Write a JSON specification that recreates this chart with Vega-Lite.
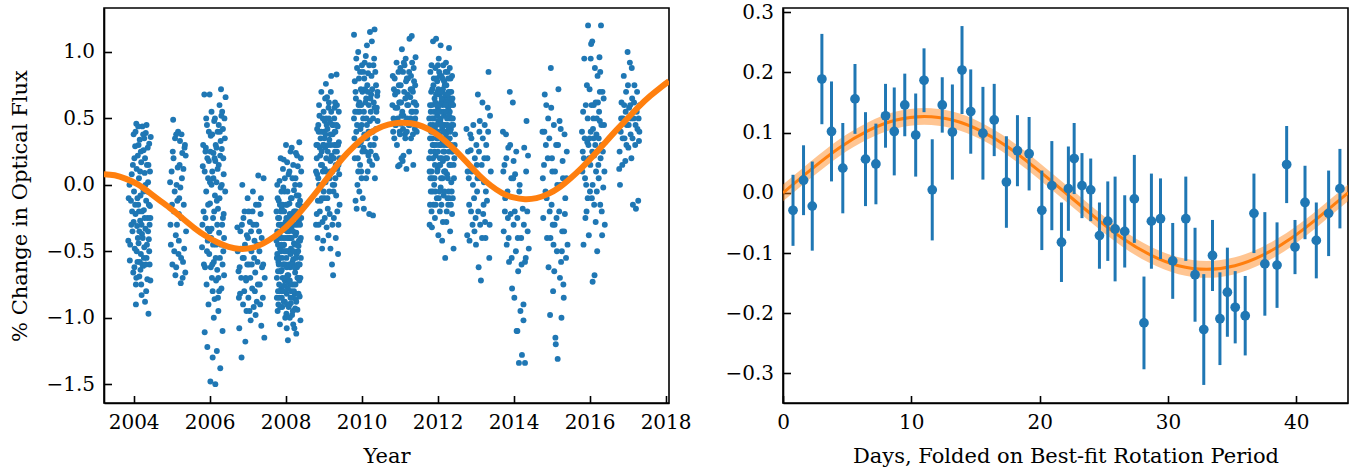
{
"$schema": "https://vega.github.io/schema/vega-lite/v6.json",
"padding": {"left": 8, "top": 1, "right": 5, "bottom": 5},
"background": "white",
"bounds": "flush",
"spacing": 114,
"config": {
  "font": "DejaVu Serif",
  "view": {"stroke": "black", "strokeWidth": 1.6},
  "axis": {"grid": false, "labelFlush": false, "domainColor": "black", "domainWidth": 1.6, "tickColor": "black", "tickWidth": 1.6, "tickSize": -7.5, "labelFont": "DejaVu Serif", "labelFontSize": 20, "labelColor": "black", "labelPadding": 17, "titleFont": "DejaVu Serif", "titleFontSize": 21, "titleFontWeight": "normal", "titleColor": "black"},
  "axisY": {"labelDy": 2.5}
},
"datasets": {
"flux": [
{"t":2003.86,"f":-0.42},{"t":2003.9,"f":-0.57},{"t":2003.93,"f":-0.12},{"t":2003.95,"f":0.08},{"t":2003.97,"f":-0.35},{"t":2003.99,"f":-0.66},{"t":2004.0,"f":0.38},{"t":2004.01,"f":-0.05},{"t":2004.03,"f":-0.48},{"t":2004.04,"f":0.29},{"t":2004.05,"f":-0.22},{"t":2004.06,"f":-0.75},{"t":2004.07,"f":0.46},{"t":2004.08,"f":0.12},{"t":2004.09,"f":-0.31},{"t":2004.1,"f":-0.58},{"t":2004.11,"f":0.22},{"t":2004.12,"f":-0.15},{"t":2004.13,"f":-0.44},{"t":2004.14,"f":0.05},{"t":2004.15,"f":-0.69},{"t":2004.16,"f":0.34},{"t":2004.17,"f":-0.27},{"t":2004.18,"f":-0.08},{"t":2004.19,"f":-0.52},{"t":2004.2,"f":0.17},{"t":2004.21,"f":-0.83},{"t":2004.22,"f":-0.37},{"t":2004.23,"f":0.44},{"t":2004.24,"f":-0.02},{"t":2004.25,"f":-0.61},{"t":2004.26,"f":0.26},{"t":2004.27,"f":-0.19},{"t":2004.28,"f":-0.47},{"t":2004.29,"f":0.09},{"t":2004.3,"f":-0.88},{"t":2004.31,"f":-0.33},{"t":2004.32,"f":0.39},{"t":2004.33,"f":-0.12},{"t":2004.34,"f":-0.55},{"t":2004.35,"f":0.15},{"t":2004.36,"f":-0.71},{"t":2004.37,"f":-0.25},{"t":2004.38,"f":0.02},{"t":2004.39,"f":-0.97},{"t":2004.4,"f":-0.41},{"t":2004.41,"f":0.31},{"t":2004.42,"f":-0.6},{"t":2004.43,"f":-0.16},{"t":2004.44,"f":-0.72},{"t":2004.45,"f":0.36},{"t":2004.0,"f":-0.28},{"t":2004.06,"f":-0.9},{"t":2004.12,"f":0.44},{"t":2004.18,"f":-0.64},{"t":2004.24,"f":-0.4},{"t":2004.3,"f":0.2},{"t":2004.36,"f":-0.05},{"t":2004.42,"f":-0.3},{"t":2003.96,"f":-0.2},
{"t":2003.87,"f":-0.1},{"t":2003.89,"f":0.0},{"t":2003.91,"f":-0.45},{"t":2003.94,"f":-0.3},{"t":2003.98,"f":0.15},{"t":2004.02,"f":-0.62},{"t":2004.02,"f":0.2},{"t":2004.05,"f":0.4},{"t":2004.08,"f":-0.5},{"t":2004.1,"f":-0.1},{"t":2004.13,"f":0.3},{"t":2004.15,"f":-0.35},{"t":2004.17,"f":0.1},{"t":2004.2,"f":-0.75},{"t":2004.22,"f":-0.2},{"t":2004.25,"f":0.38},{"t":2004.27,"f":-0.55},{"t":2004.29,"f":-0.25},{"t":2004.31,"f":0.0},{"t":2004.33,"f":-0.8},{"t":2004.35,"f":-0.45},{"t":2004.37,"f":0.28},{"t":2004.38,"f":-0.35},{"t":2004.4,"f":-0.15},{"t":2004.41,"f":-0.5},{"t":2004.43,"f":0.1},{"t":2004.44,"f":-0.25},{"t":2004.07,"f":-0.7},{"t":2004.11,"f":-0.4},{"t":2004.19,"f":0.25},{"t":2004.23,"f":-0.6},{"t":2004.26,"f":-0.05},{"t":2004.32,"f":-0.6},{"t":2004.34,"f":0.45},{"t":2004.14,"f":-0.2},{"t":2004.04,"f":-0.15},{"t":2004.28,"f":0.35},{"t":2004.39,"f":0.15},{"t":2004.16,"f":-0.58},{"t":2004.21,"f":-0.3},
{"t":2004.96,"f":0.02},{"t":2004.98,"f":-0.45},{"t":2005.0,"f":0.1},{"t":2005.02,"f":-0.6},{"t":2005.04,"f":0.49},{"t":2005.06,"f":-0.2},{"t":2005.08,"f":-0.05},{"t":2005.1,"f":-0.68},{"t":2005.12,"f":0.38},{"t":2005.14,"f":-0.3},{"t":2005.16,"f":0.13},{"t":2005.18,"f":-0.52},{"t":2005.2,"f":-0.1},{"t":2005.22,"f":0.33},{"t":2005.24,"f":-0.74},{"t":2005.26,"f":-0.25},{"t":2005.28,"f":0.24},{"t":2005.3,"f":-0.58},{"t":2005.32,"f":-0.15},{"t":2005.34,"f":0.28},{"t":2005.36,"f":-0.66},{"t":2005.38,"f":-0.35},{"t":2005.05,"f":0.2},{"t":2005.11,"f":-0.38},{"t":2005.17,"f":0.4},{"t":2005.23,"f":-0.02},{"t":2005.29,"f":-0.7},{"t":2005.35,"f":0.3},{"t":2005.15,"f":-0.12},{"t":2005.27,"f":0.05},
{"t":2004.97,"f":-0.3},{"t":2005.01,"f":-0.15},{"t":2005.03,"f":0.25},{"t":2005.07,"f":-0.5},{"t":2005.09,"f":0.35},{"t":2005.13,"f":0.0},{"t":2005.19,"f":-0.42},{"t":2005.21,"f":0.15},{"t":2005.25,"f":-0.55},{"t":2005.31,"f":0.12},{"t":2005.33,"f":-0.48},{"t":2005.37,"f":0.22},{"t":2005.12,"f":-0.62},{"t":2005.26,"f":0.38},{"t":2005.19,"f":-0.22},
{"t":2005.8,"f":-0.47},{"t":2005.82,"f":0.14},{"t":2005.84,"f":-0.2},{"t":2005.86,"f":0.68},{"t":2005.87,"f":-1.11},{"t":2005.88,"f":-0.62},{"t":2005.9,"f":0.28},{"t":2005.91,"f":-0.05},{"t":2005.92,"f":-0.75},{"t":2005.93,"f":0.45},{"t":2005.94,"f":-1.22},{"t":2005.95,"f":-0.33},{"t":2005.96,"f":0.05},{"t":2005.97,"f":-0.9},{"t":2005.98,"f":0.18},{"t":2005.99,"f":-0.52},{"t":2006.0,"f":0.68},{"t":2006.01,"f":-0.14},{"t":2006.02,"f":-1.48},{"t":2006.03,"f":0.37},{"t":2006.04,"f":-0.4},{"t":2006.05,"f":0.55},{"t":2006.06,"f":-0.7},{"t":2006.07,"f":0.1},{"t":2006.08,"f":-1.3},{"t":2006.09,"f":-0.25},{"t":2006.1,"f":0.24},{"t":2006.11,"f":-0.58},{"t":2006.12,"f":0.48},{"t":2006.13,"f":-0.86},{"t":2006.14,"f":-0.08},{"t":2006.15,"f":-1.5},{"t":2006.16,"f":0.3},{"t":2006.17,"f":-0.45},{"t":2006.18,"f":0.02},{"t":2006.19,"f":-1.25},{"t":2006.2,"f":-0.64},{"t":2006.21,"f":0.4},{"t":2006.22,"f":-0.18},{"t":2006.23,"f":-0.95},{"t":2006.24,"f":0.15},{"t":2006.25,"f":-0.36},{"t":2006.26,"f":0.6},{"t":2006.27,"f":-0.55},{"t":2006.28,"f":-1.38},{"t":2006.29,"f":-0.02},{"t":2006.3,"f":0.72},{"t":2006.31,"f":-0.78},{"t":2006.32,"f":0.27},{"t":2006.33,"f":-0.3},{"t":2006.34,"f":-1.1},{"t":2006.35,"f":0.42},{"t":2006.36,"f":-0.5},{"t":2006.37,"f":0.08},{"t":2006.38,"f":-0.68},{"t":2006.4,"f":0.35},{"t":2006.42,"f":0.66},{"t":2005.89,"f":0.25},{"t":2005.95,"f":-0.42},{"t":2006.01,"f":0.02},{"t":2006.07,"f":-0.6},{"t":2006.13,"f":0.2},{"t":2006.19,"f":-0.12},{"t":2006.25,"f":-0.8},{"t":2006.31,"f":0.52},{"t":2006.37,"f":-0.22},{"t":2006.05,"f":-0.33},{"t":2006.17,"f":-0.72},{"t":2006.29,"f":0.33},{"t":2006.11,"f":-1.0},
{"t":2005.81,"f":-0.3},{"t":2005.83,"f":0.3},{"t":2005.85,"f":-0.6},{"t":2005.87,"f":0.1},{"t":2005.89,"f":-0.25},{"t":2005.91,"f":0.5},{"t":2005.93,"f":-0.5},{"t":2005.96,"f":-0.15},{"t":2005.98,"f":0.4},{"t":2006.0,"f":-0.35},{"t":2006.02,"f":0.25},{"t":2006.03,"f":-0.62},{"t":2006.05,"f":0.0},{"t":2006.07,"f":0.38},{"t":2006.09,"f":-0.45},{"t":2006.1,"f":0.05},{"t":2006.12,"f":-0.2},{"t":2006.14,"f":0.5},{"t":2006.16,"f":-0.55},{"t":2006.18,"f":0.28},{"t":2006.2,"f":-0.3},{"t":2006.21,"f":0.12},{"t":2006.23,"f":-0.7},{"t":2006.24,"f":0.45},{"t":2006.26,"f":-0.1},{"t":2006.28,"f":0.22},{"t":2006.3,"f":-0.45},{"t":2006.32,"f":0.0},{"t":2006.33,"f":0.55},{"t":2006.35,"f":-0.25},{"t":2006.36,"f":0.2},{"t":2006.38,"f":-0.4},{"t":2006.39,"f":0.5},{"t":2006.41,"f":-0.05},{"t":2006.08,"f":-0.8},{"t":2006.22,"f":-0.85},{"t":2006.15,"f":0.18},{"t":2006.27,"f":0.4},{"t":2005.94,"f":0.2},{"t":2006.34,"f":-0.6},
{"t":2006.73,"f":-0.32},{"t":2006.76,"f":-0.65},{"t":2006.78,"f":-1.08},{"t":2006.8,"f":-0.82},{"t":2006.82,"f":-0.48},{"t":2006.84,"f":-1.3},{"t":2006.86,"f":0.0},{"t":2006.88,"f":-0.9},{"t":2006.9,"f":-0.55},{"t":2006.92,"f":-0.2},{"t":2006.94,"f":-1.18},{"t":2006.96,"f":-0.72},{"t":2006.98,"f":-0.38},{"t":2007.0,"f":-0.1},{"t":2007.02,"f":-0.85},{"t":2007.04,"f":-0.6},{"t":2007.06,"f":-0.28},{"t":2007.08,"f":-1.02},{"t":2007.1,"f":-0.5},{"t":2007.12,"f":-0.78},{"t":2007.14,"f":-0.05},{"t":2007.16,"f":-0.92},{"t":2007.18,"f":-0.42},{"t":2007.2,"f":-0.66},{"t":2007.22,"f":-0.15},{"t":2007.24,"f":-0.88},{"t":2007.26,"f":-0.58},{"t":2007.28,"f":0.07},{"t":2007.3,"f":-0.35},{"t":2007.32,"f":-0.75},{"t":2007.34,"f":-0.22},{"t":2007.36,"f":-1.06},{"t":2007.38,"f":-0.62},{"t":2007.4,"f":-0.85},{"t":2007.42,"f":0.05},{"t":2007.44,"f":-1.15},{"t":2006.85,"f":-0.3},{"t":2006.95,"f":-0.7},{"t":2007.05,"f":-0.95},{"t":2007.15,"f":-0.3},{"t":2007.25,"f":-0.45},{"t":2007.35,"f":-0.1},{"t":2007.45,"f":-0.7},{"t":2006.79,"f":-0.62},{"t":2007.21,"f":-0.98},
{"t":2006.74,"f":-0.5},{"t":2006.77,"f":-0.85},{"t":2006.81,"f":-0.35},{"t":2006.83,"f":-0.7},{"t":2006.87,"f":-0.55},{"t":2006.89,"f":-0.25},{"t":2006.91,"f":-0.8},{"t":2006.93,"f":-0.45},{"t":2006.97,"f":-0.95},{"t":2006.99,"f":-0.6},{"t":2007.01,"f":-0.4},{"t":2007.03,"f":-0.2},{"t":2007.07,"f":-0.7},{"t":2007.09,"f":-0.35},{"t":2007.11,"f":-0.6},{"t":2007.13,"f":-0.2},{"t":2007.17,"f":-0.55},{"t":2007.19,"f":-0.8},{"t":2007.23,"f":-0.3},{"t":2007.27,"f":-0.75},{"t":2007.29,"f":-0.15},{"t":2007.31,"f":-0.5},{"t":2007.33,"f":-0.9},{"t":2007.37,"f":-0.4},{"t":2007.41,"f":-0.6},
{"t":2007.76,"f":-0.42},{"t":2007.77,"f":-0.7},{"t":2007.78,"f":0.0},{"t":2007.79,"f":-0.95},{"t":2007.8,"f":-0.25},{"t":2007.81,"f":-0.58},{"t":2007.82,"f":-0.12},{"t":2007.83,"f":-0.85},{"t":2007.84,"f":-0.38},{"t":2007.85,"f":-1.05},{"t":2007.86,"f":-0.65},{"t":2007.87,"f":0.2},{"t":2007.88,"f":-0.5},{"t":2007.89,"f":-0.78},{"t":2007.9,"f":-0.18},{"t":2007.91,"f":-0.92},{"t":2007.92,"f":-0.32},{"t":2007.93,"f":0.12},{"t":2007.94,"f":-0.6},{"t":2007.95,"f":-0.88},{"t":2007.96,"f":-0.45},{"t":2007.97,"f":-0.05},{"t":2007.98,"f":-0.72},{"t":2007.99,"f":-1.0},{"t":2008.0,"f":-0.28},{"t":2008.01,"f":0.3},{"t":2008.02,"f":-0.55},{"t":2008.03,"f":-0.82},{"t":2008.04,"f":-0.15},{"t":2008.05,"f":-0.4},{"t":2008.06,"f":-1.17},{"t":2008.07,"f":-0.68},{"t":2008.08,"f":0.08},{"t":2008.09,"f":-0.35},{"t":2008.1,"f":-0.9},{"t":2008.11,"f":-0.22},{"t":2008.12,"f":-0.62},{"t":2008.13,"f":0.25},{"t":2008.14,"f":-0.48},{"t":2008.15,"f":-0.8},{"t":2008.16,"f":-0.1},{"t":2008.17,"f":-0.98},{"t":2008.18,"f":-0.58},{"t":2008.19,"f":-0.3},{"t":2008.2,"f":0.15},{"t":2008.21,"f":-0.75},{"t":2008.22,"f":-0.44},{"t":2008.23,"f":-1.08},{"t":2008.24,"f":-0.2},{"t":2008.25,"f":-0.66},{"t":2008.26,"f":0.05},{"t":2008.27,"f":-0.86},{"t":2008.28,"f":-0.36},{"t":2008.29,"f":-0.52},{"t":2008.3,"f":0.22},{"t":2008.31,"f":-0.94},{"t":2008.32,"f":-0.26},{"t":2008.33,"f":-0.7},{"t":2008.34,"f":-0.08},{"t":2008.35,"f":-0.6},{"t":2008.36,"f":0.32},{"t":2008.37,"f":-0.84},{"t":2008.38,"f":-0.42},{"t":2008.39,"f":-1.02},{"t":2008.4,"f":-0.16},{"t":2008.41,"f":0.1},{"t":2007.78,"f":-0.52},{"t":2007.8,"f":-0.8},{"t":2007.82,"f":-0.3},{"t":2007.84,"f":0.03},{"t":2007.86,"f":-0.92},{"t":2007.88,"f":-0.2},{"t":2007.9,"f":-0.64},{"t":2007.92,"f":-0.46},{"t":2007.94,"f":-0.02},{"t":2007.96,"f":-0.76},{"t":2007.98,"f":-0.34},{"t":2008.0,"f":-0.6},{"t":2008.02,"f":-0.97},{"t":2008.04,"f":0.17},{"t":2008.06,"f":-0.5},{"t":2008.08,"f":-0.74},{"t":2008.1,"f":-0.14},{"t":2008.12,"f":-0.4},{"t":2008.14,"f":-0.89},{"t":2008.16,"f":0.28},{"t":2008.18,"f":-0.24},{"t":2008.2,"f":-0.56},{"t":2008.22,"f":-0.04},{"t":2008.24,"f":-0.82},{"t":2008.26,"f":-0.38},{"t":2008.28,"f":-1.12},{"t":2008.3,"f":-0.62},{"t":2008.32,"f":0.14},{"t":2008.34,"f":-0.46},{"t":2008.36,"f":-0.72},{"t":2008.38,"f":-0.12},{"t":2008.4,"f":-0.55},{"t":2008.05,"f":-0.68},{"t":2008.15,"f":-0.33},{"t":2008.25,"f":-0.93},{"t":2008.35,"f":-0.28},{"t":2007.95,"f":0.19},{"t":2008.11,"f":-1.0},{"t":2008.27,"f":0.24},{"t":2007.85,"f":-0.48},{"t":2008.19,"f":-0.85},{"t":2008.33,"f":-0.5},
{"t":2007.76,"f":-0.2},{"t":2007.77,"f":-0.55},{"t":2007.77,"f":-0.85},{"t":2007.78,"f":-0.35},{"t":2007.79,"f":-0.1},{"t":2007.8,"f":-0.65},{"t":2007.8,"f":-0.45},{"t":2007.81,"f":-0.9},{"t":2007.82,"f":-0.6},{"t":2007.83,"f":-0.25},{"t":2007.83,"f":-0.75},{"t":2007.84,"f":-0.55},{"t":2007.85,"f":-0.15},{"t":2007.86,"f":-0.4},{"t":2007.86,"f":-0.8},{"t":2007.87,"f":-0.3},{"t":2007.88,"f":-0.65},{"t":2007.89,"f":-0.05},{"t":2007.89,"f":-0.45},{"t":2007.9,"f":-0.85},{"t":2007.91,"f":-0.55},{"t":2007.92,"f":-0.7},{"t":2007.92,"f":-0.15},{"t":2007.93,"f":-0.4},{"t":2007.94,"f":-0.8},{"t":2007.95,"f":-0.3},{"t":2007.95,"f":-0.6},{"t":2007.96,"f":-0.2},{"t":2007.97,"f":-0.5},{"t":2007.98,"f":-0.88},{"t":2007.98,"f":0.05},{"t":2007.99,"f":-0.4},{"t":2008.0,"f":-0.7},{"t":2008.01,"f":-0.15},{"t":2008.01,"f":-0.5},{"t":2008.02,"f":-0.25},{"t":2008.03,"f":-0.62},{"t":2008.04,"f":-0.9},{"t":2008.04,"f":-0.35},{"t":2008.05,"f":-0.05},{"t":2008.06,"f":-0.78},{"t":2008.07,"f":-0.25},{"t":2008.07,"f":-0.5},{"t":2008.08,"f":-0.92},{"t":2008.09,"f":-0.6},{"t":2008.1,"f":-0.4},{"t":2008.1,"f":0.1},{"t":2008.11,"f":-0.72},{"t":2008.12,"f":-0.3},{"t":2008.13,"f":-0.52},{"t":2008.13,"f":-0.85},{"t":2008.14,"f":-0.1},{"t":2008.15,"f":-0.6},{"t":2008.16,"f":-0.4},{"t":2008.16,"f":-0.75},{"t":2008.17,"f":-0.22},{"t":2008.18,"f":0.05},{"t":2008.19,"f":-0.6},{"t":2008.19,"f":-0.95},{"t":2008.2,"f":-0.35},{"t":2008.21,"f":-0.5},{"t":2008.22,"f":-0.2},{"t":2008.22,"f":-0.8},{"t":2008.23,"f":-0.62},{"t":2008.24,"f":-0.45},{"t":2008.25,"f":0.0},{"t":2008.25,"f":-0.3},{"t":2008.26,"f":-0.75},{"t":2008.27,"f":-0.55},{"t":2008.28,"f":-0.2},{"t":2008.28,"f":-0.88},{"t":2008.29,"f":-0.08},{"t":2008.3,"f":-0.45},{"t":2008.31,"f":-0.7},{"t":2008.31,"f":-0.3},{"t":2008.32,"f":-0.6},{"t":2008.33,"f":-0.15},{"t":2008.34,"f":-0.82},{"t":2008.34,"f":-0.25},{"t":2008.35,"f":-0.42},{"t":2008.36,"f":-0.15},{"t":2008.37,"f":-0.6},{"t":2008.37,"f":0.0},{"t":2008.38,"f":-0.3},{"t":2008.39,"f":-0.7},{"t":2008.4,"f":-0.4},{"t":2008.4,"f":0.2},{"t":2008.41,"f":-0.25},{"t":2008.03,"f":-1.08},{"t":2008.2,"f":-1.05},
{"t":2008.8,"f":-0.3},{"t":2008.82,"f":0.2},{"t":2008.84,"f":-0.4},{"t":2008.86,"f":0.45},{"t":2008.88,"f":0.0},{"t":2008.9,"f":-0.2},{"t":2008.92,"f":0.35},{"t":2008.94,"f":0.7},{"t":2008.96,"f":-0.48},{"t":2008.98,"f":0.1},{"t":2009.0,"f":0.55},{"t":2009.02,"f":-0.1},{"t":2009.04,"f":0.28},{"t":2009.06,"f":0.76},{"t":2009.08,"f":-0.32},{"t":2009.1,"f":0.42},{"t":2009.12,"f":0.05},{"t":2009.14,"f":0.62},{"t":2009.16,"f":-0.22},{"t":2009.18,"f":0.18},{"t":2009.2,"f":0.82},{"t":2009.22,"f":-0.6},{"t":2009.24,"f":0.38},{"t":2009.26,"f":-0.05},{"t":2009.28,"f":0.5},{"t":2009.3,"f":0.25},{"t":2009.32,"f":-0.4},{"t":2009.34,"f":0.83},{"t":2009.36,"f":0.12},{"t":2009.38,"f":-0.52},{"t":2009.4,"f":0.32},{"t":2009.42,"f":-0.15},{"t":2008.81,"f":0.3},{"t":2008.85,"f":-0.12},{"t":2008.89,"f":0.52},{"t":2008.93,"f":0.15},{"t":2008.97,"f":-0.28},{"t":2009.01,"f":0.4},{"t":2009.05,"f":0.02},{"t":2009.09,"f":0.66},{"t":2009.13,"f":-0.38},{"t":2009.17,"f":0.47},{"t":2009.21,"f":0.22},{"t":2009.25,"f":-0.68},{"t":2009.29,"f":0.58},{"t":2009.33,"f":-0.08},{"t":2009.37,"f":0.44},{"t":2009.41,"f":0.08},{"t":2008.87,"f":0.4},{"t":2008.91,"f":-0.02},{"t":2008.95,"f":0.25},{"t":2008.99,"f":-0.42},{"t":2009.03,"f":0.48},{"t":2009.07,"f":0.2},{"t":2009.11,"f":-0.18},{"t":2009.15,"f":0.34},{"t":2009.19,"f":0.7},{"t":2009.23,"f":0.1},{"t":2009.27,"f":-0.25},{"t":2009.31,"f":0.4},{"t":2009.35,"f":0.6},{"t":2009.39,"f":-0.3},{"t":2009.03,"f":-0.25},{"t":2009.13,"f":0.58},{"t":2009.23,"f":0.45},{"t":2009.33,"f":0.3},{"t":2008.83,"f":0.08},{"t":2009.18,"f":-0.48},{"t":2009.28,"f":0.0},{"t":2009.0,"f":0.3},
{"t":2008.8,"f":0.1},{"t":2008.82,"f":-0.22},{"t":2008.84,"f":0.3},{"t":2008.86,"f":0.05},{"t":2008.88,"f":0.6},{"t":2008.9,"f":0.28},{"t":2008.92,"f":-0.12},{"t":2008.94,"f":0.4},{"t":2008.96,"f":0.15},{"t":2008.98,"f":0.5},{"t":2009.0,"f":-0.05},{"t":2009.02,"f":0.35},{"t":2009.04,"f":0.65},{"t":2009.06,"f":0.1},{"t":2009.08,"f":0.45},{"t":2009.1,"f":-0.1},{"t":2009.12,"f":0.3},{"t":2009.14,"f":0.5},{"t":2009.16,"f":0.05},{"t":2009.18,"f":0.38},{"t":2009.2,"f":0.55},{"t":2009.22,"f":0.2},{"t":2009.24,"f":0.0},{"t":2009.26,"f":0.45},{"t":2009.28,"f":0.3},{"t":2009.3,"f":0.62},{"t":2009.32,"f":0.15},{"t":2009.34,"f":0.45},{"t":2009.36,"f":-0.2},{"t":2009.38,"f":0.3},{"t":2009.4,"f":0.55},{"t":2009.42,"f":0.2},{"t":2008.83,"f":0.42},{"t":2008.87,"f":-0.3},{"t":2008.91,"f":0.22},{"t":2008.95,"f":-0.1},{"t":2008.99,"f":0.3},{"t":2009.03,"f":0.12},{"t":2009.07,"f":0.5},{"t":2009.11,"f":0.25},{"t":2009.15,"f":-0.05},{"t":2009.19,"f":0.3},{"t":2009.23,"f":-0.3},{"t":2009.27,"f":0.2},{"t":2009.31,"f":0.05},{"t":2009.35,"f":0.25},{"t":2009.39,"f":0.15},{"t":2009.05,"f":0.38},{"t":2009.17,"f":0.1},{"t":2009.29,"f":0.4},
{"t":2009.8,"f":1.13},{"t":2009.82,"f":0.78},{"t":2009.84,"f":-0.12},{"t":2009.86,"f":0.95},{"t":2009.88,"f":0.45},{"t":2009.9,"f":0.2},{"t":2009.92,"f":0.6},{"t":2009.94,"f":-0.05},{"t":2009.96,"f":0.85},{"t":2009.98,"f":0.32},{"t":2010.0,"f":0.05},{"t":2010.02,"f":0.7},{"t":2010.04,"f":0.5},{"t":2010.06,"f":-0.18},{"t":2010.08,"f":0.92},{"t":2010.1,"f":0.25},{"t":2010.12,"f":0.65},{"t":2010.14,"f":1.05},{"t":2010.16,"f":0.1},{"t":2010.18,"f":0.4},{"t":2010.2,"f":-0.22},{"t":2010.22,"f":1.15},{"t":2010.24,"f":0.55},{"t":2010.26,"f":0.82},{"t":2010.28,"f":0.15},{"t":2010.3,"f":-0.23},{"t":2010.32,"f":0.62},{"t":2010.34,"f":1.17},{"t":2010.36,"f":0.35},{"t":2010.38,"f":0.75},{"t":2010.4,"f":0.58},{"t":2010.42,"f":0.48},{"t":2009.81,"f":0.35},{"t":2009.85,"f":0.65},{"t":2009.89,"f":0.0},{"t":2009.93,"f":0.8},{"t":2009.97,"f":0.42},{"t":2010.01,"f":0.9},{"t":2010.05,"f":0.28},{"t":2010.09,"f":0.72},{"t":2010.13,"f":0.5},{"t":2010.17,"f":0.84},{"t":2010.21,"f":0.18},{"t":2010.25,"f":0.68},{"t":2010.29,"f":0.4},{"t":2010.33,"f":0.95},{"t":2010.37,"f":0.22},{"t":2010.41,"f":0.67},{"t":2009.87,"f":-0.18},{"t":2009.95,"f":0.55},{"t":2010.03,"f":-0.1},{"t":2010.11,"f":0.97},{"t":2010.19,"f":0.6},{"t":2010.27,"f":1.08},{"t":2010.35,"f":0.05},{"t":2009.91,"f":1.0},{"t":2009.99,"f":0.1},{"t":2010.07,"f":0.38},{"t":2010.15,"f":0.75},{"t":2010.23,"f":0.3},
{"t":2009.8,"f":0.5},{"t":2009.82,"f":0.2},{"t":2009.84,"f":0.7},{"t":2009.86,"f":0.4},{"t":2009.88,"f":0.88},{"t":2009.9,"f":0.55},{"t":2009.92,"f":0.3},{"t":2009.94,"f":0.62},{"t":2009.96,"f":0.15},{"t":2009.98,"f":0.72},{"t":2010.0,"f":0.45},{"t":2010.02,"f":0.25},{"t":2010.04,"f":0.85},{"t":2010.06,"f":0.55},{"t":2010.08,"f":0.35},{"t":2010.1,"f":0.62},{"t":2010.12,"f":0.05},{"t":2010.14,"f":0.45},{"t":2010.16,"f":0.7},{"t":2010.18,"f":0.22},{"t":2010.2,"f":0.9},{"t":2010.22,"f":0.48},{"t":2010.24,"f":0.25},{"t":2010.26,"f":0.4},{"t":2010.28,"f":0.72},{"t":2010.3,"f":0.5},{"t":2010.32,"f":0.3},{"t":2010.34,"f":0.58},{"t":2010.36,"f":0.85},{"t":2010.38,"f":0.42},{"t":2010.4,"f":0.2},{"t":2010.42,"f":0.7},{"t":2009.83,"f":0.55},{"t":2009.91,"f":0.1},{"t":2009.99,"f":0.6},{"t":2010.07,"f":0.8},{"t":2010.15,"f":0.35},{"t":2010.23,"f":0.65},{"t":2010.31,"f":0.9},{"t":2010.39,"f":0.55},
{"t":2010.82,"f":0.82},{"t":2010.84,"f":0.5},{"t":2010.86,"f":0.35},{"t":2010.88,"f":0.68},{"t":2010.9,"f":0.45},{"t":2010.92,"f":0.92},{"t":2010.94,"f":0.58},{"t":2010.96,"f":0.14},{"t":2010.98,"f":0.75},{"t":2011.0,"f":0.4},{"t":2011.02,"f":0.88},{"t":2011.04,"f":0.62},{"t":2011.06,"f":1.02},{"t":2011.08,"f":0.18},{"t":2011.1,"f":0.52},{"t":2011.12,"f":0.7},{"t":2011.14,"f":0.38},{"t":2011.16,"f":0.95},{"t":2011.18,"f":0.12},{"t":2011.2,"f":0.6},{"t":2011.22,"f":0.8},{"t":2011.24,"f":0.45},{"t":2011.26,"f":1.1},{"t":2011.28,"f":0.66},{"t":2011.3,"f":0.35},{"t":2011.32,"f":1.12},{"t":2011.34,"f":0.55},{"t":2011.36,"f":0.15},{"t":2011.38,"f":0.78},{"t":2011.4,"f":0.42},{"t":2011.42,"f":0.96},{"t":2011.44,"f":0.6},{"t":2010.85,"f":0.72},{"t":2010.93,"f":0.3},{"t":2011.01,"f":0.62},{"t":2011.09,"f":0.85},{"t":2011.17,"f":0.48},{"t":2011.25,"f":0.25},{"t":2011.33,"f":0.72},{"t":2011.41,"f":0.5},{"t":2010.89,"f":0.58},{"t":2010.97,"f":0.85},{"t":2011.05,"f":0.2},{"t":2011.13,"f":0.9},{"t":2011.21,"f":0.68},{"t":2011.29,"f":0.5},{"t":2011.37,"f":0.88},{"t":2011.45,"f":0.4},{"t":2011.03,"f":0.46},{"t":2011.19,"f":0.8},
{"t":2010.81,"f":0.6},{"t":2010.83,"f":0.4},{"t":2010.87,"f":0.8},{"t":2010.89,"f":0.45},{"t":2010.91,"f":0.7},{"t":2010.95,"f":0.5},{"t":2010.99,"f":0.62},{"t":2011.01,"f":0.38},{"t":2011.03,"f":0.75},{"t":2011.07,"f":0.55},{"t":2011.09,"f":0.42},{"t":2011.11,"f":0.92},{"t":2011.15,"f":0.65},{"t":2011.17,"f":0.78},{"t":2011.19,"f":0.4},{"t":2011.23,"f":0.6},{"t":2011.25,"f":0.85},{"t":2011.27,"f":0.45},{"t":2011.29,"f":0.72},{"t":2011.31,"f":0.55},{"t":2011.33,"f":0.92},{"t":2011.35,"f":0.38},{"t":2011.37,"f":0.62},{"t":2011.39,"f":0.48},{"t":2011.41,"f":0.75},{"t":2011.43,"f":0.55},{"t":2011.0,"f":0.15},{"t":2011.1,"f":0.22},{"t":2011.2,"f":0.5},{"t":2011.3,"f":0.82},{"t":2011.4,"f":0.62},{"t":2010.95,"f":0.7},{"t":2011.05,"f":0.52},{"t":2011.15,"f":0.35},{"t":2011.35,"f":0.7},
{"t":2011.78,"f":0.2},{"t":2011.79,"f":-0.3},{"t":2011.8,"f":0.6},{"t":2011.81,"f":0.85},{"t":2011.82,"f":-0.05},{"t":2011.83,"f":0.4},{"t":2011.84,"f":0.1},{"t":2011.85,"f":-0.32},{"t":2011.86,"f":0.72},{"t":2011.87,"f":0.3},{"t":2011.88,"f":1.08},{"t":2011.89,"f":-0.15},{"t":2011.9,"f":0.5},{"t":2011.91,"f":0.0},{"t":2011.92,"f":0.65},{"t":2011.93,"f":-0.25},{"t":2011.94,"f":0.88},{"t":2011.95,"f":0.22},{"t":2011.96,"f":1.1},{"t":2011.97,"f":0.45},{"t":2011.98,"f":-0.1},{"t":2011.99,"f":0.78},{"t":2012.0,"f":0.12},{"t":2012.01,"f":0.58},{"t":2012.02,"f":-0.38},{"t":2012.03,"f":0.95},{"t":2012.04,"f":0.3},{"t":2012.05,"f":0.68},{"t":2012.06,"f":-0.2},{"t":2012.07,"f":0.48},{"t":2012.08,"f":1.05},{"t":2012.09,"f":0.05},{"t":2012.1,"f":0.82},{"t":2012.11,"f":0.35},{"t":2012.12,"f":-0.42},{"t":2012.13,"f":0.6},{"t":2012.14,"f":0.18},{"t":2012.15,"f":0.9},{"t":2012.16,"f":-0.08},{"t":2012.17,"f":0.52},{"t":2012.18,"f":0.25},{"t":2012.19,"f":0.75},{"t":2012.2,"f":-0.55},{"t":2012.21,"f":0.4},{"t":2012.22,"f":0.92},{"t":2012.23,"f":-0.28},{"t":2012.24,"f":0.65},{"t":2012.25,"f":0.08},{"t":2012.26,"f":0.85},{"t":2012.27,"f":0.32},{"t":2012.28,"f":-0.15},{"t":2012.29,"f":0.7},{"t":2012.3,"f":1.03},{"t":2012.31,"f":0.15},{"t":2012.32,"f":0.55},{"t":2012.33,"f":-0.35},{"t":2012.34,"f":0.8},{"t":2012.35,"f":0.42},{"t":2012.36,"f":0.02},{"t":2012.37,"f":0.62},{"t":2012.38,"f":-0.22},{"t":2012.39,"f":0.28},{"t":2012.4,"f":0.5},{"t":2012.42,"f":-0.48},{"t":2012.44,"f":0.2},{"t":2012.46,"f":0.38},{"t":2011.8,"f":0.35},{"t":2011.84,"f":0.9},{"t":2011.88,"f":0.45},{"t":2011.92,"f":0.25},{"t":2011.96,"f":0.68},{"t":2012.0,"f":0.4},{"t":2012.04,"f":0.85},{"t":2012.08,"f":-0.02},{"t":2012.12,"f":0.7},{"t":2012.16,"f":0.45},{"t":2012.2,"f":0.1},{"t":2012.24,"f":0.3},{"t":2012.28,"f":0.58},{"t":2012.32,"f":0.88},{"t":2012.36,"f":0.7},{"t":2012.4,"f":-0.1},{"t":2011.82,"f":0.55},{"t":2011.86,"f":0.05},{"t":2011.9,"f":0.8},{"t":2011.94,"f":-0.05},{"t":2011.98,"f":0.35},{"t":2012.02,"f":0.72},{"t":2012.06,"f":0.2},{"t":2012.1,"f":0.55},{"t":2012.14,"f":-0.28},{"t":2012.18,"f":0.62},{"t":2012.22,"f":0.38},{"t":2012.26,"f":-0.1},{"t":2012.3,"f":0.25},{"t":2012.34,"f":0.5},{"t":2012.38,"f":0.82},{"t":2012.42,"f":0.15},{"t":2012.01,"f":0.9},{"t":2012.09,"f":0.62},{"t":2012.17,"f":0.78},{"t":2012.25,"f":0.5},{"t":2012.33,"f":0.65},{"t":2012.13,"f":0.32},{"t":2012.29,"f":0.42},{"t":2012.05,"f":0.15},{"t":2012.21,"f":0.85},{"t":2012.37,"f":0.45},{"t":2011.99,"f":0.52},
{"t":2011.78,"f":0.5},{"t":2011.79,"f":0.1},{"t":2011.8,"f":-0.15},{"t":2011.81,"f":0.45},{"t":2011.82,"f":0.25},{"t":2011.83,"f":0.7},{"t":2011.84,"f":-0.2},{"t":2011.85,"f":0.6},{"t":2011.86,"f":0.35},{"t":2011.87,"f":-0.05},{"t":2011.88,"f":0.2},{"t":2011.89,"f":0.75},{"t":2011.9,"f":0.3},{"t":2011.91,"f":0.55},{"t":2011.92,"f":0.05},{"t":2011.93,"f":0.42},{"t":2011.94,"f":0.62},{"t":2011.95,"f":-0.15},{"t":2011.96,"f":0.3},{"t":2011.97,"f":0.8},{"t":2011.98,"f":0.55},{"t":2011.99,"f":0.1},{"t":2012.0,"f":0.7},{"t":2012.01,"f":0.25},{"t":2012.02,"f":0.48},{"t":2012.03,"f":-0.1},{"t":2012.04,"f":0.6},{"t":2012.05,"f":0.38},{"t":2012.06,"f":0.82},{"t":2012.07,"f":0.15},{"t":2012.08,"f":0.5},{"t":2012.09,"f":0.3},{"t":2012.1,"f":-0.15},{"t":2012.11,"f":0.65},{"t":2012.12,"f":0.42},{"t":2012.13,"f":0.05},{"t":2012.14,"f":0.72},{"t":2012.15,"f":0.25},{"t":2012.16,"f":0.55},{"t":2012.17,"f":0.1},{"t":2012.18,"f":-0.05},{"t":2012.19,"f":0.45},{"t":2012.2,"f":0.68},{"t":2012.21,"f":0.2},{"t":2012.22,"f":0.55},{"t":2012.23,"f":0.35},{"t":2012.24,"f":-0.2},{"t":2012.25,"f":0.62},{"t":2012.26,"f":0.45},{"t":2012.27,"f":0.05},{"t":2012.28,"f":0.8},{"t":2012.29,"f":0.3},{"t":2012.3,"f":0.52},{"t":2012.31,"f":-0.1},{"t":2012.32,"f":0.35},{"t":2012.33,"f":0.7},{"t":2012.34,"f":0.15},{"t":2012.35,"f":0.6},{"t":2012.36,"f":0.3},{"t":2012.37,"f":-0.05},{"t":2012.38,"f":0.5},{"t":2012.39,"f":0.65},{"t":2012.4,"f":0.25},{"t":2012.41,"f":0.45},{"t":2012.43,"f":0.05},{"t":2012.45,"f":0.3},{"t":2011.81,"f":0.05},{"t":2011.85,"f":0.5},{"t":2011.89,"f":0.4},{"t":2011.93,"f":0.15},{"t":2011.97,"f":0.6},{"t":2012.01,"f":0.35},{"t":2012.05,"f":-0.05},{"t":2012.09,"f":0.45},{"t":2012.13,"f":0.8},{"t":2012.17,"f":0.3},{"t":2012.21,"f":0.6},{"t":2012.25,"f":0.2},{"t":2012.29,"f":-0.05},{"t":2012.33,"f":0.4},{"t":2012.37,"f":0.25},{"t":2012.41,"f":0.6},{"t":2012.03,"f":0.55},{"t":2012.11,"f":0.2},{"t":2012.19,"f":0.1},{"t":2012.27,"f":0.68},{"t":2012.35,"f":-0.15},{"t":2012.07,"f":0.7},{"t":2012.23,"f":0.75},{"t":2012.15,"f":0.4},
{"t":2012.76,"f":0.42},{"t":2012.78,"f":-0.38},{"t":2012.8,"f":0.25},{"t":2012.82,"f":0.05},{"t":2012.84,"f":-0.42},{"t":2012.86,"f":0.38},{"t":2012.88,"f":-0.2},{"t":2012.9,"f":0.1},{"t":2012.92,"f":-0.3},{"t":2012.94,"f":0.45},{"t":2012.96,"f":-0.1},{"t":2012.98,"f":0.2},{"t":2013.0,"f":-0.25},{"t":2013.02,"f":0.3},{"t":2013.04,"f":-0.05},{"t":2013.06,"f":0.68},{"t":2013.08,"f":-0.62},{"t":2013.1,"f":0.4},{"t":2013.12,"f":-0.3},{"t":2013.14,"f":-0.72},{"t":2013.16,"f":0.15},{"t":2013.18,"f":0.62},{"t":2013.2,"f":-0.22},{"t":2013.22,"f":0.02},{"t":2013.24,"f":0.45},{"t":2013.26,"f":-0.4},{"t":2013.28,"f":0.3},{"t":2013.3,"f":-0.12},{"t":2013.32,"f":0.58},{"t":2013.34,"f":0.85},{"t":2013.36,"f":-0.55},{"t":2013.38,"f":0.52},{"t":2013.4,"f":0.1},{"t":2012.87,"f":0.26},{"t":2013.01,"f":-0.45},{"t":2013.11,"f":0.48},{"t":2013.21,"f":-0.15},{"t":2013.31,"f":0.2},{"t":2013.25,"f":-0.28},{"t":2013.05,"f":0.05},
{"t":2012.79,"f":0.1},{"t":2012.83,"f":-0.15},{"t":2012.89,"f":0.35},{"t":2012.93,"f":0.0},{"t":2012.97,"f":-0.35},{"t":2013.03,"f":0.15},{"t":2013.07,"f":-0.2},{"t":2013.09,"f":0.25},{"t":2013.13,"f":0.05},{"t":2013.17,"f":-0.4},{"t":2013.19,"f":0.35},{"t":2013.23,"f":0.2},{"t":2013.27,"f":-0.05},{"t":2013.33,"f":0.4},{"t":2013.37,"f":-0.3},
{"t":2013.72,"f":0.4},{"t":2013.74,"f":-0.35},{"t":2013.76,"f":0.15},{"t":2013.78,"f":-0.1},{"t":2013.8,"f":0.38},{"t":2013.82,"f":-0.45},{"t":2013.84,"f":-0.05},{"t":2013.86,"f":0.28},{"t":2013.88,"f":-0.58},{"t":2013.9,"f":0.7},{"t":2013.92,"f":-0.22},{"t":2013.94,"f":0.05},{"t":2013.96,"f":-0.78},{"t":2013.98,"f":0.62},{"t":2014.0,"f":-0.3},{"t":2014.02,"f":-0.85},{"t":2014.04,"f":0.08},{"t":2014.06,"f":-0.5},{"t":2014.08,"f":-1.1},{"t":2014.1,"f":-0.25},{"t":2014.12,"f":-0.65},{"t":2014.14,"f":-1.34},{"t":2014.16,"f":0.0},{"t":2014.18,"f":-0.95},{"t":2014.2,"f":-0.4},{"t":2014.22,"f":-1.28},{"t":2014.24,"f":-0.18},{"t":2014.26,"f":-1.02},{"t":2014.28,"f":0.28},{"t":2014.3,"f":-1.34},{"t":2014.32,"f":-0.55},{"t":2014.34,"f":0.48},{"t":2014.36,"f":-0.2},{"t":2014.38,"f":0.22},{"t":2014.4,"f":-0.48},{"t":2014.1,"f":-1.1},{"t":2014.26,"f":-0.9},{"t":2013.85,"f":-0.25},{"t":2014.0,"f":0.18},{"t":2014.3,"f":-0.58},
{"t":2013.73,"f":0.1},{"t":2013.77,"f":-0.2},{"t":2013.81,"f":0.2},{"t":2013.87,"f":-0.4},{"t":2013.91,"f":0.3},{"t":2013.95,"f":-0.55},{"t":2013.99,"f":0.05},{"t":2014.03,"f":-0.2},{"t":2014.07,"f":0.25},{"t":2014.11,"f":-0.4},{"t":2014.15,"f":-0.05},{"t":2014.21,"f":-0.6},{"t":2014.27,"f":-0.3},{"t":2014.33,"f":0.1},{"t":2014.37,"f":-0.35},
{"t":2014.76,"f":0.4},{"t":2014.78,"f":-0.25},{"t":2014.8,"f":0.15},{"t":2014.82,"f":0.68},{"t":2014.84,"f":-0.05},{"t":2014.86,"f":0.6},{"t":2014.88,"f":-0.4},{"t":2014.9,"f":0.2},{"t":2014.92,"f":-0.62},{"t":2014.94,"f":0.35},{"t":2014.96,"f":-0.98},{"t":2014.98,"f":0.88},{"t":2015.0,"f":-0.15},{"t":2015.02,"f":0.1},{"t":2015.04,"f":-0.8},{"t":2015.06,"f":0.45},{"t":2015.08,"f":-0.3},{"t":2015.1,"f":-1.15},{"t":2015.12,"f":0.3},{"t":2015.14,"f":-0.5},{"t":2015.16,"f":-1.31},{"t":2015.18,"f":0.72},{"t":2015.2,"f":-0.2},{"t":2015.22,"f":-0.7},{"t":2015.24,"f":0.42},{"t":2015.26,"f":-1.0},{"t":2015.28,"f":-0.35},{"t":2015.3,"f":0.05},{"t":2015.32,"f":-0.85},{"t":2015.34,"f":0.38},{"t":2015.36,"f":-0.1},{"t":2015.38,"f":-0.55},{"t":2015.4,"f":0.25},{"t":2015.42,"f":-0.45},{"t":2014.85,"f":0.3},{"t":2014.95,"f":-0.2},{"t":2015.05,"f":-0.45},{"t":2015.15,"f":0.0},{"t":2015.25,"f":-0.58},{"t":2015.35,"f":-0.22},{"t":2015.11,"f":-1.2},{"t":2015.21,"f":0.48},{"t":2014.99,"f":0.58},{"t":2015.31,"f":-0.75},{"t":2015.07,"f":-0.65},
{"t":2014.77,"f":0.05},{"t":2014.81,"f":0.4},{"t":2014.87,"f":-0.1},{"t":2014.91,"f":0.5},{"t":2014.97,"f":-0.4},{"t":2015.01,"f":0.2},{"t":2015.03,"f":-0.3},{"t":2015.09,"f":0.1},{"t":2015.13,"f":-0.25},{"t":2015.17,"f":0.3},{"t":2015.23,"f":0.0},{"t":2015.27,"f":-0.5},{"t":2015.29,"f":0.18},{"t":2015.33,"f":-0.35},{"t":2015.39,"f":0.05},
{"t":2015.8,"f":0.4},{"t":2015.82,"f":0.25},{"t":2015.84,"f":-0.45},{"t":2015.86,"f":0.95},{"t":2015.88,"f":0.05},{"t":2015.9,"f":0.6},{"t":2015.92,"f":-0.2},{"t":2015.94,"f":0.32},{"t":2015.96,"f":1.2},{"t":2015.98,"f":-0.38},{"t":2016.0,"f":0.72},{"t":2016.02,"f":0.15},{"t":2016.04,"f":1.06},{"t":2016.06,"f":-0.1},{"t":2016.08,"f":-0.73},{"t":2016.1,"f":0.5},{"t":2016.12,"f":0.22},{"t":2016.14,"f":0.88},{"t":2016.16,"f":-0.28},{"t":2016.18,"f":0.38},{"t":2016.2,"f":-0.5},{"t":2016.22,"f":0.62},{"t":2016.24,"f":0.05},{"t":2016.26,"f":0.96},{"t":2016.28,"f":-0.15},{"t":2016.3,"f":1.2},{"t":2016.32,"f":0.3},{"t":2016.34,"f":0.7},{"t":2016.36,"f":-0.02},{"t":2016.38,"f":0.45},{"t":2016.4,"f":-0.3},{"t":2015.85,"f":0.2},{"t":2015.93,"f":0.75},{"t":2016.01,"f":-0.05},{"t":2016.09,"f":0.42},{"t":2016.17,"f":0.1},{"t":2016.25,"f":0.55},{"t":2016.33,"f":-0.38},{"t":2015.89,"f":-0.25},{"t":2015.97,"f":0.3},{"t":2016.05,"f":0.6},{"t":2016.13,"f":-0.68},{"t":2016.21,"f":0.82},{"t":2016.29,"f":0.2},{"t":2016.37,"f":0.65},{"t":2016.07,"f":1.08},{"t":2015.95,"f":-0.1},{"t":2016.19,"f":-0.05},{"t":2016.27,"f":0.48},{"t":2016.11,"f":0.35},
{"t":2015.81,"f":0.1},{"t":2015.83,"f":0.55},{"t":2015.87,"f":0.35},{"t":2015.91,"f":0.0},{"t":2015.95,"f":0.5},{"t":2015.99,"f":0.2},{"t":2016.03,"f":0.4},{"t":2016.03,"f":0.95},{"t":2016.07,"f":0.25},{"t":2016.11,"f":0.6},{"t":2016.15,"f":0.3},{"t":2016.19,"f":0.5},{"t":2016.23,"f":0.15},{"t":2016.27,"f":0.7},{"t":2016.31,"f":0.45},{"t":2016.35,"f":0.25},{"t":2016.39,"f":0.1},{"t":2016.0,"f":0.35},{"t":2016.08,"f":0.0},{"t":2016.16,"f":0.62},{"t":2016.24,"f":0.35},{"t":2016.32,"f":-0.2},{"t":2016.12,"f":-0.15},{"t":2016.28,"f":0.85},{"t":2016.2,"f":0.25},
{"t":2016.78,"f":0.12},{"t":2016.8,"f":0.0},{"t":2016.82,"f":0.4},{"t":2016.84,"f":0.62},{"t":2016.86,"f":0.15},{"t":2016.88,"f":0.5},{"t":2016.9,"f":0.82},{"t":2016.92,"f":0.35},{"t":2016.94,"f":0.18},{"t":2016.96,"f":0.7},{"t":2016.98,"f":0.45},{"t":2017.0,"f":1.0},{"t":2017.02,"f":0.28},{"t":2017.04,"f":0.58},{"t":2017.06,"f":0.92},{"t":2017.08,"f":0.38},{"t":2017.1,"f":0.2},{"t":2017.12,"f":0.65},{"t":2017.14,"f":-0.15},{"t":2017.16,"f":0.5},{"t":2017.18,"f":0.75},{"t":2017.2,"f":0.3},{"t":2017.22,"f":-0.18},{"t":2017.24,"f":0.55},{"t":2017.26,"f":0.42},{"t":2017.28,"f":-0.12},{"t":2017.3,"f":0.33},{"t":2017.32,"f":0.6},{"t":2016.95,"f":0.55},{"t":2017.11,"f":0.88},
{"t":2016.79,"f":0.25},{"t":2016.83,"f":0.5},{"t":2016.87,"f":0.35},{"t":2016.91,"f":0.6},{"t":2016.97,"f":0.3},{"t":2017.01,"f":0.75},{"t":2017.03,"f":0.45},{"t":2017.07,"f":0.6},{"t":2017.09,"f":0.5},{"t":2017.13,"f":0.35},{"t":2017.17,"f":0.62},{"t":2017.21,"f":0.45},{"t":2017.25,"f":0.7},{"t":2017.29,"f":0.5},{"t":2017.31,"f":0.4}
],
"fit": [
{"t":2003.22,"f":0.08},{"t":2003.5,"f":0.072},{"t":2003.8,"f":0.045},{"t":2004.1,"f":0.005},{"t":2004.4,"f":-0.055},{"t":2004.7,"f":-0.12},{"t":2005.0,"f":-0.185},{"t":2005.3,"f":-0.255},{"t":2005.6,"f":-0.325},{"t":2005.9,"f":-0.385},{"t":2006.2,"f":-0.432},{"t":2006.5,"f":-0.466},{"t":2006.8,"f":-0.482},{"t":2007.1,"f":-0.475},{"t":2007.4,"f":-0.443},{"t":2007.7,"f":-0.39},{"t":2008.0,"f":-0.32},{"t":2008.3,"f":-0.232},{"t":2008.6,"f":-0.13},{"t":2008.9,"f":-0.022},{"t":2009.2,"f":0.09},{"t":2009.5,"f":0.2},{"t":2009.8,"f":0.29},{"t":2010.1,"f":0.365},{"t":2010.4,"f":0.42},{"t":2010.7,"f":0.453},{"t":2011.0,"f":0.467},{"t":2011.3,"f":0.463},{"t":2011.6,"f":0.44},{"t":2011.9,"f":0.395},{"t":2012.2,"f":0.33},{"t":2012.5,"f":0.25},{"t":2012.8,"f":0.16},{"t":2013.1,"f":0.07},{"t":2013.4,"f":-0.005},{"t":2013.7,"f":-0.062},{"t":2014.0,"f":-0.095},{"t":2014.3,"f":-0.108},{"t":2014.6,"f":-0.1},{"t":2014.9,"f":-0.07},{"t":2015.2,"f":-0.02},{"t":2015.5,"f":0.05},{"t":2015.8,"f":0.13},{"t":2016.1,"f":0.22},{"t":2016.4,"f":0.315},{"t":2016.7,"f":0.41},{"t":2017.0,"f":0.5},{"t":2017.3,"f":0.59},{"t":2017.6,"f":0.67},{"t":2017.9,"f":0.74},{"t":2018.09,"f":0.78}
],
"fold": [
{"d":0.78,"v":-0.029,"e":0.059},{"d":1.6,"v":0.021,"e":0.058},{"d":2.28,"v":-0.022,"e":0.074},{"d":3.03,"v":0.189,"e":0.075},{"d":3.78,"v":0.102,"e":0.083},{"d":4.66,"v":0.041,"e":0.075},{"d":5.61,"v":0.156,"e":0.058},{"d":6.43,"v":0.056,"e":0.078},{"d":7.24,"v":0.048,"e":0.067},{"d":7.99,"v":0.128,"e":0.053},{"d":8.67,"v":0.102,"e":0.073},{"d":9.49,"v":0.146,"e":0.052},{"d":10.34,"v":0.096,"e":0.069},{"d":10.99,"v":0.187,"e":0.053},{"d":11.63,"v":0.005,"e":0.084},{"d":12.41,"v":0.146,"e":0.046},{"d":13.2,"v":0.101,"e":0.079},{"d":13.95,"v":0.204,"e":0.073},{"d":14.63,"v":0.135,"e":0.07},{"d":15.58,"v":0.099,"e":0.077},{"d":16.46,"v":0.121,"e":0.06},{"d":17.41,"v":0.018,"e":0.076},{"d":18.27,"v":0.07,"e":0.059},{"d":19.18,"v":0.065,"e":0.061},{"d":20.17,"v":-0.029,"e":0.066},{"d":20.95,"v":0.012,"e":0.074},{"d":21.7,"v":-0.082,"e":0.066},{"d":22.24,"v":0.007,"e":0.07},{"d":22.69,"v":0.057,"e":0.059},{"d":23.3,"v":0.012,"e":0.054},{"d":23.98,"v":0.005,"e":0.052},{"d":24.66,"v":-0.071,"e":0.055},{"d":25.31,"v":-0.047,"e":0.066},{"d":25.88,"v":-0.06,"e":0.087},{"d":26.63,"v":-0.064,"e":0.06},{"d":27.38,"v":-0.01,"e":0.073},{"d":28.13,"v":-0.216,"e":0.077},{"d":28.71,"v":-0.047,"e":0.079},{"d":29.42,"v":-0.043,"e":0.067},{"d":30.37,"v":-0.113,"e":0.063},{"d":31.39,"v":-0.043,"e":0.07},{"d":32.11,"v":-0.136,"e":0.078},{"d":32.79,"v":-0.227,"e":0.092},{"d":33.47,"v":-0.104,"e":0.059},{"d":34.05,"v":-0.209,"e":0.077},{"d":34.63,"v":-0.165,"e":0.074},{"d":35.24,"v":-0.19,"e":0.06},{"d":36.02,"v":-0.204,"e":0.066},{"d":36.7,"v":-0.034,"e":0.066},{"d":37.55,"v":-0.118,"e":0.086},{"d":38.5,"v":-0.12,"e":0.071},{"d":39.25,"v":0.047,"e":0.064},{"d":39.9,"v":-0.09,"e":0.045},{"d":40.68,"v":-0.016,"e":0.061},{"d":41.56,"v":-0.079,"e":0.063},{"d":42.52,"v":-0.034,"e":0.071},{"d":43.4,"v":0.007,"e":0.066}
],
"model": [
{"d":0,"m":0,"lo":-0.014,"hi":0.014},{"d":2.2,"m":0.039,"lo":0.025,"hi":0.053},{"d":4.4,"m":0.075,"lo":0.061,"hi":0.089},{"d":6.6,"m":0.103,"lo":0.089,"hi":0.117},{"d":8.81,"m":0.121,"lo":0.107,"hi":0.135},{"d":11.01,"m":0.127,"lo":0.113,"hi":0.141},{"d":13.21,"m":0.121,"lo":0.107,"hi":0.135},{"d":15.41,"m":0.103,"lo":0.089,"hi":0.117},{"d":17.61,"m":0.075,"lo":0.061,"hi":0.089},{"d":19.81,"m":0.039,"lo":0.025,"hi":0.053},{"d":22.02,"m":0,"lo":-0.014,"hi":0.014},{"d":24.22,"m":-0.039,"lo":-0.053,"hi":-0.025},{"d":26.42,"m":-0.075,"lo":-0.089,"hi":-0.061},{"d":28.62,"m":-0.103,"lo":-0.117,"hi":-0.089},{"d":30.82,"m":-0.121,"lo":-0.135,"hi":-0.107},{"d":33.02,"m":-0.127,"lo":-0.141,"hi":-0.113},{"d":35.22,"m":-0.121,"lo":-0.135,"hi":-0.107},{"d":37.43,"m":-0.103,"lo":-0.117,"hi":-0.089},{"d":39.63,"m":-0.075,"lo":-0.089,"hi":-0.061},{"d":41.83,"m":-0.039,"lo":-0.053,"hi":-0.025},{"d":44.03,"m":0,"lo":-0.014,"hi":0.014}
]
},
"hconcat": [
{
  "width": 565,
  "height": 395,
  "encoding": {
    "x": {"field": "t", "type": "quantitative", "scale": {"domain": [2003.22, 2018.09], "nice": false, "zero": false}, "axis": {"values": [2004, 2006, 2008, 2010, 2012, 2014, 2016, 2018], "format": "d", "title": "Year", "titleY": 42}},
    "y": {"field": "f", "type": "quantitative", "scale": {"domain": [-1.642, 1.331], "nice": false, "zero": false}, "axis": {"values": [-1.5, -1, -0.5, 0, 0.5, 1], "format": ".1f", "title": "% Change in Optical Flux", "titleX": -73.5}}
  },
  "layer": [
    {"data": {"name": "flux"}, "mark": {"type": "circle", "size": 35, "color": "#1f77b4", "opacity": 1}},
    {"data": {"name": "fit"}, "mark": {"type": "line", "color": "#ff7f0e", "strokeWidth": 6, "interpolate": "natural", "clip": true}}
  ]
},
{
  "width": 565,
  "height": 395,
  "layer": [
    {"data": {"name": "model"}, "mark": {"type": "area", "color": "#ff7f0e", "opacity": 0.45, "interpolate": "natural", "clip": true},
     "encoding": {
       "x": {"field": "d", "type": "quantitative", "scale": {"domain": [0, 44.03], "nice": false, "zero": false}, "axis": {"values": [0, 10, 20, 30, 40], "format": "d", "title": "Days, Folded on Best-fit Rotation Period", "titleY": 42}},
       "y": {"field": "lo", "type": "quantitative", "scale": {"domain": [-0.349, 0.307], "nice": false, "zero": false}, "axis": {"values": [-0.3, -0.2, -0.1, 0, 0.1, 0.2, 0.3], "format": ".1f", "title": null}},
       "y2": {"field": "hi"}
     }},
    {"data": {"name": "model"}, "mark": {"type": "line", "color": "#ff7f0e", "strokeWidth": 3, "interpolate": "natural", "clip": true},
     "encoding": {
       "x": {"field": "d", "type": "quantitative"},
       "y": {"field": "m", "type": "quantitative", "title": null}
     }},
    {"data": {"name": "fold"}, "mark": {"type": "errorbar", "color": "#1f77b4", "thickness": 3, "rule": {"strokeWidth": 3}},
     "encoding": {
       "x": {"field": "d", "type": "quantitative"},
       "y": {"field": "v", "type": "quantitative", "title": null},
       "yError": {"field": "e"}
     }},
    {"data": {"name": "fold"}, "mark": {"type": "circle", "size": 95, "color": "#1f77b4", "opacity": 1},
     "encoding": {
       "x": {"field": "d", "type": "quantitative"},
       "y": {"field": "v", "type": "quantitative", "title": null}
     }}
  ]
}
]
}
